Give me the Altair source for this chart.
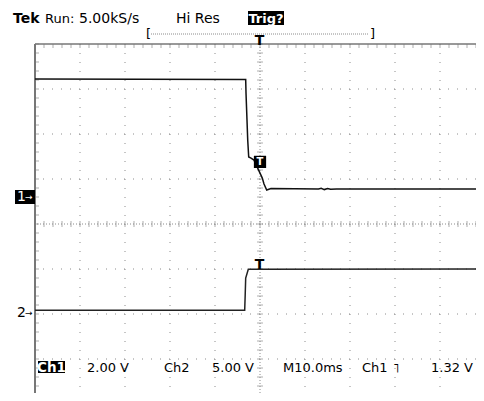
import altair as alt
import pandas as pd
import numpy as np

# ---- data (time in ms, level in volts) ----
ch1_t = [-50, -3.18, -3.11, -2.89, -2.73, -2.51, -2.0, -1.33, 0.51, 0.89, 1.49, 2.44,
         13.0, 13.6, 14.3, 15.0, 15.7, 17.0, 50]
ch1_v = [5.24, 5.22, 4.62, 3.42, 2.53, 1.78, 1.73, 1.64, 0.84, 0.58, 0.31, 0.38,
         0.36, 0.39, 0.33, 0.38, 0.35, 0.36, 0.36]
ch2_t = [-50, -3.4, -3.29, -3.18, -2.6, 50]
ch2_v = [0.33, 0.33, 2.0, 3.89, 4.86, 4.89]

ch1_vdiv, ch2_vdiv = 2.0, 5.0          # volts per division
ch1_ground, ch2_ground = 0.6, -1.98    # ground marker position (divisions)
trig_marker_div = 1.38                 # ch1 trigger level marker position (divisions)
ch2_high_div = -1.0

header_tokens = ["Tek", "Run:", "5.00kS/s", "Hi Res"]
footer_tokens = ["2.00 V", "Ch2", "5.00 V", "M10.0ms", "Ch1", "˥", "1.32 V"]

PX = 4.5            # pixels per ms  (45 px per 10 ms division)
PY = 45.0           # pixels per vertical division
W, H = 441, 349
T_MIN, D_MAX = -50.0, 4.0
T_MAX = T_MIN + W / PX
D_MIN = D_MAX - H / PY
FONT = "DejaVu Sans"
GRID = "#8c8c8c"

xs = alt.Scale(domain=[T_MIN, T_MAX], nice=False, zero=False)
ys = alt.Scale(domain=[D_MIN, D_MAX], nice=False, zero=False)
X = lambda f: alt.X(f, type="quantitative", scale=xs, axis=None)
Y = lambda f: alt.Y(f, type="quantitative", scale=ys, axis=None)

layers = []

# ---- graticule ----
vgrid = pd.DataFrame({"t": [-40, -30, -20, -10, 10, 20, 30, 40]})
hgrid = pd.DataFrame({"d": [-3, -2, -1, 1, 2, 3]})
layers.append(alt.Chart(vgrid).mark_rule(color=GRID, strokeWidth=1, strokeDash=[1, 8]).encode(x=X("t")))
layers.append(alt.Chart(hgrid).mark_rule(color=GRID, strokeWidth=1, strokeDash=[1, 8]).encode(y=Y("d")))
layers.append(alt.Chart(pd.DataFrame({"t": [0]})).mark_rule(color=GRID, strokeWidth=1, strokeDash=[1, 2]).encode(x=X("t")))
layers.append(alt.Chart(pd.DataFrame({"d": [0]})).mark_rule(color=GRID, strokeWidth=1, strokeDash=[1, 2]).encode(y=Y("d")))

mt = np.round(np.arange(-50, 50.01, 2), 3)
md = np.round(np.arange(-4, 4.01, 0.2), 3)
mt = mt[mt <= T_MAX]
md = md[md >= D_MIN]
minor_t = pd.DataFrame({"t": mt, "d": 0.0})
minor_d = pd.DataFrame({"d": md, "t": 0.0})
layers.append(alt.Chart(minor_t).mark_tick(color=GRID, orient="vertical", size=6, thickness=1).encode(x=X("t"), y=Y("d")))
layers.append(alt.Chart(minor_d).mark_tick(color=GRID, orient="horizontal", size=6, thickness=1).encode(x=X("t"), y=Y("d")))
# border rulers (top and left)
top_t = minor_t.assign(d=D_MAX)
left_d = minor_d.assign(t=T_MIN)
layers.append(alt.Chart(top_t).mark_tick(color=GRID, orient="vertical", size=4, thickness=1, yOffset=2).encode(x=X("t"), y=Y("d")))
layers.append(alt.Chart(left_d).mark_tick(color=GRID, orient="horizontal", size=4, thickness=1, xOffset=2).encode(x=X("t"), y=Y("d")))
layers.append(alt.Chart(pd.DataFrame({"d": [D_MAX]})).mark_rule(color="#777777", strokeWidth=1.5).encode(y=Y("d")))
layers.append(alt.Chart(pd.DataFrame({"t": [T_MIN]})).mark_rule(color="#777777", strokeWidth=2).encode(x=X("t")))

# ---- traces ----
ch1 = pd.DataFrame({"t": ch1_t, "v": ch1_v})
ch2 = pd.DataFrame({"t": ch2_t, "v": ch2_v})
layers.append(alt.Chart(ch1).transform_calculate(pos=f"datum.v/{ch1_vdiv} + {ch1_ground}")
              .mark_line(color="#111111", strokeWidth=1.5, interpolate="linear").encode(x=X("t"), y=Y("pos"), order="t:Q"))
layers.append(alt.Chart(ch2).transform_calculate(pos=f"datum.v/{ch2_vdiv} + ({ch2_ground})")
              .mark_line(color="#222222", strokeWidth=1.5, interpolate="linear").encode(x=X("t"), y=Y("pos"), order="t:Q"))

# trigger level marker on ch1
tm = pd.DataFrame({"t": [0.0], "d": [trig_marker_div]})
layers.append(alt.Chart(tm).mark_square(color="black", size=150, opacity=1, filled=True).encode(x=X("t"), y=Y("d")))
layers.append(alt.Chart(tm).mark_text(text="T", color="white", font=FONT, fontSize=10, fontWeight="bold",
                                      baseline="middle", align="center").encode(x=X("t"), y=Y("d")))
# T on ch2
layers.append(alt.Chart(pd.DataFrame({"t": [0.0], "d": [ch2_high_div]})).mark_text(
    text="T", color="black", font=FONT, fontSize=14, fontWeight="bold", baseline="alphabetic", align="center",
    dx=-0.5).encode(x=X("t"), y=Y("d")))

# ground markers
g1 = pd.DataFrame({"d": [ch1_ground]})
g2 = pd.DataFrame({"d": [ch2_ground]})
layers.append(alt.Chart(g1).mark_rect(color="black", yOffset=-7, y2Offset=7).encode(
    x=alt.value(-20), x2=alt.value(0), y=Y("d"), y2="d"))
layers.append(alt.Chart(g1).mark_text(text="1", color="white", font=FONT, fontSize=14, align="left", baseline="middle")
              .encode(x=alt.value(-18), y=Y("d")))
layers.append(alt.Chart(g1).mark_text(text="→", color="white", font=FONT, fontSize=9, align="left", baseline="middle")
              .encode(x=alt.value(-10), y=Y("d")))
layers.append(alt.Chart(g2).mark_text(text="2", color="black", font=FONT, fontSize=14, align="left", baseline="middle")
              .encode(x=alt.value(-18), y=Y("d")))
layers.append(alt.Chart(g2).mark_text(text="→", color="black", font=FONT, fontSize=9, align="left", baseline="middle")
              .encode(x=alt.value(-10), y=Y("d")))

one = pd.DataFrame({"a": [0]})

def label(txt, x, y, color="black", size=13.5, weight="normal", align="left", baseline="alphabetic"):
    return alt.Chart(one).mark_text(text=txt, color=color, font=FONT, fontSize=size, fontWeight=weight,
                                    align=align, baseline=baseline).encode(x=alt.value(x), y=alt.value(y))

def box(x, x2, y, y2, color="black"):
    return alt.Chart(one).mark_rect(color=color).encode(x=alt.value(x), x2=alt.value(x2), y=alt.value(y), y2=alt.value(y2))

# header (plot-relative pixels; plot origin is at page (35, 44))
hx = [-22, 10, 44, 141]
hs = [14, 13, 14, 14]
for tok, x, s in zip(header_tokens, hx, hs):
    layers.append(label(tok, x, -21, size=s, weight="bold" if tok == "Tek" else "normal"))
layers.append(box(213, 249, -33, -19))
layers.append(label("Trig?", 231, -21.5, color="white", size=13, weight="bold", align="center"))
layers.append(label("[", 111, -10, size=13, baseline="middle"))
layers.append(label("]", 335, -10, size=13, baseline="middle"))
layers.append(alt.Chart(one).mark_rule(color=GRID, strokeDash=[1, 1]).encode(
    x=alt.value(116), x2=alt.value(334), y=alt.value(-10)))
layers.append(label("T", 224.5, 1, size=14, weight="bold", align="center"))

# footer
layers.append(box(3, 30, 317, 329))
layers.append(label("Ch1", 16.5, 327.5, color="white", size=13.5, weight="bold", align="center"))
fx = [52, 129, 177, 248, 327, 358, 396]
for tok, x in zip(footer_tokens, fx):
    layers.append(label(tok, x, 328, size=13))

chart = alt.layer(*layers).properties(
    width=W, height=H,
    autosize=alt.AutoSizeParams(type="none"),
    padding={"left": 27, "top": 36, "right": 0, "bottom": 0},
    background="white",
).configure_view(stroke=None)

chart.save("out.html", embed_options={"renderer": "svg", "actions": False})
